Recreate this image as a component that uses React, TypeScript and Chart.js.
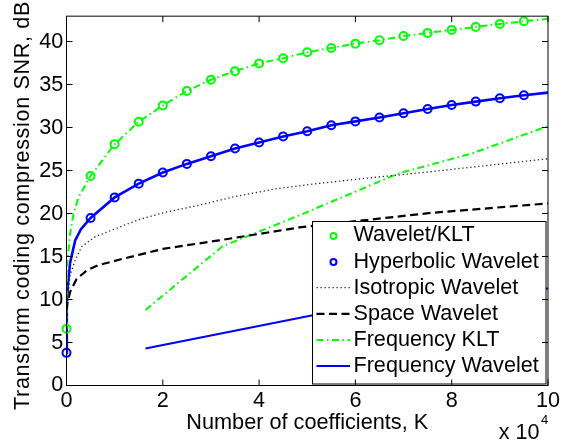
import React, { useEffect, useRef } from "react";
import { Chart, registerables } from "chart.js";

Chart.register(...registerables);

const FONT_FAMILY = "'Liberation Sans', Arial, Helvetica, sans-serif";
const GREEN = "#00ff00";
const BLUE = "#0000ff";

// ---- axes ----
const X_MAX = 100000;
const Y_MAX = 43;
const xTickValues = [0, 20000, 40000, 60000, 80000, 100000];
const yTickValues = [0, 5, 10, 15, 20, 25, 30, 35, 40];
const xTitle = "Number of coefficients, K";
const yTitle = "Transform coding compression SNR, dB";
const xExponentBase = "x 10";
const xExponent = "4";

// ---- marker series (every 5000 coefficients) ----
const markerK = [
  0, 5000, 10000, 15000, 20000, 25000, 30000, 35000, 40000, 45000,
  50000, 55000, 60000, 65000, 70000, 75000, 80000, 85000, 90000, 95000,
];
const waveletKltMarkerSNR = [
  6.6, 24.4, 28.1, 30.7, 32.6, 34.3, 35.6, 36.6, 37.5, 38.1,
  38.8, 39.3, 39.8, 40.2, 40.7, 41.05, 41.4, 41.75, 42.1, 42.4,
];
const hyperbolicMarkerSNR = [
  3.8, 19.5, 21.9, 23.5, 24.8, 25.8, 26.7, 27.6, 28.3, 29.0,
  29.6, 30.3, 30.75, 31.2, 31.7, 32.2, 32.65, 33.05, 33.45, 33.8,
];

// ---- continuous curves ----
const waveletKltCurveK = [
  0, 50, 200, 750, 1450, 2480, 5000, 10000, 15000, 20000, 25000, 30000, 35000,
  40000, 45000, 50000, 55000, 60000, 65000, 70000, 75000, 80000, 85000, 90000,
  95000, 100000,
];
const waveletKltCurveSNR = [
  6.6, 12.0, 14.5, 17.7, 20.0, 21.9, 24.4, 28.1, 30.7, 32.6, 34.3, 35.6, 36.6,
  37.5, 38.1, 38.8, 39.3, 39.8, 40.2, 40.7, 41.05, 41.4, 41.75, 42.1, 42.4, 42.7,
];

const hyperbolicCurveK = [
  0, 30, 100, 270, 750, 1800, 3000, 5000, 10000, 15000, 20000, 25000, 30000,
  35000, 40000, 45000, 50000, 55000, 60000, 65000, 70000, 75000, 80000, 85000,
  90000, 95000, 100000,
];
const hyperbolicCurveSNR = [
  3.8, 7.5, 9.5, 11.6, 14.3, 16.9, 18.2, 19.5, 21.9, 23.5, 24.8, 25.8, 26.7,
  27.6, 28.3, 29.0, 29.6, 30.3, 30.75, 31.2, 31.7, 32.2, 32.65, 33.05, 33.45,
  33.8, 34.1,
];

const isotropicK = [
  0, 100, 270, 750, 1800, 3200, 5900, 10800, 15000, 20000, 27600, 35000, 43500,
  52000, 60000, 75800, 100000,
];
const isotropicSNR = [
  8.5, 9.0, 10.1, 12.8, 14.6, 16.2, 17.3, 18.4, 19.3, 20.1, 21.0, 22.0, 22.9,
  23.5, 24.0, 24.9, 26.4,
];

const spaceK = [
  0, 200, 750, 2100, 4200, 6600, 11300, 15000, 20000, 31700, 48300, 75800,
  100000,
];
const spaceSNR = [
  8.8, 9.6, 10.9, 12.4, 13.4, 14.0, 14.7, 15.2, 15.9, 16.9, 18.4, 20.1, 21.2,
];

const freqKltK = [16400, 32400, 48300, 69000, 84100, 100000];
const freqKltSNR = [8.8, 16.2, 19.8, 24.7, 27.0, 30.2];

const freqWaveletK = [16400, 51400, 65500, 81900, 100000];
const freqWaveletSNR = [4.3, 8.2, 9.1, 10.2, 11.3];

const legendLabels = [
  "Wavelet/KLT",
  "Hyperbolic Wavelet",
  "Isotropic Wavelet",
  "Space Wavelet",
  "Frequency KLT",
  "Frequency Wavelet",
];

const DASH_DOT = [7, 3.5, 1.5, 3.5];
const DASHED = [8, 4.5];
const DOTTED = [1.3, 2.7];

const toXY = (xs: number[], ys: number[]) => xs.map((x, i) => ({ x, y: ys[i] }));

const matlabFrame = {
  id: "matlabFrame",
  afterDatasetsDraw(chart: any) {
    const { ctx, chartArea: a, scales } = chart;
    const xs = scales.x;
    const ys = scales.y;
    ctx.save();

    // ---- legend box (inside axes, bottom-right) ----
    const lRight = a.right - 2;
    const lBottom = a.bottom - 1.5;
    const lWidth = 233.5;
    const lHeight = 162.5;
    const lLeft = lRight - lWidth;
    const lTop = lBottom - lHeight;
    ctx.fillStyle = "#ffffff";
    ctx.fillRect(lLeft, lTop, lWidth, lHeight);
    ctx.strokeStyle = "#000000";
    ctx.lineWidth = 1;
    ctx.setLineDash([]);
    ctx.strokeRect(lLeft, lTop, lWidth, lHeight);

    const entries = chart.data.datasets.filter((d: any) => d.inLegend);
    ctx.font = `21.6px ${FONT_FAMILY}`;
    ctx.textBaseline = "middle";
    ctx.textAlign = "left";
    entries.forEach((d: any, i: number) => {
      const y = lTop + 14 + i * 26.1;
      if (d.showLine === false) {
        ctx.setLineDash([]);
        ctx.lineWidth = 2;
        ctx.strokeStyle = d.pointBorderColor;
        ctx.beginPath();
        ctx.arc(lLeft + 21, y + 0.5, 3, 0, Math.PI * 2);
        ctx.stroke();
      } else {
        ctx.setLineDash(d.borderDash || []);
        ctx.lineWidth = d.borderWidth;
        ctx.strokeStyle = d.borderColor;
        ctx.beginPath();
        ctx.moveTo(lLeft + 4, y);
        ctx.lineTo(lLeft + 37.5, y);
        ctx.stroke();
      }
      ctx.fillStyle = "#000000";
      ctx.fillText(d.label, lLeft + 41, y);
    });

    // ---- axes box ----
    ctx.setLineDash([]);
    ctx.strokeStyle = "#000000";
    ctx.lineWidth = 1;
    ctx.strokeRect(a.left, a.top, a.right - a.left, a.bottom - a.top);

    // ---- inward ticks on all four sides ----
    const tl = 6;
    ctx.beginPath();
    xTickValues.forEach((v) => {
      const px = xs.getPixelForValue(v);
      ctx.moveTo(px, a.bottom);
      ctx.lineTo(px, a.bottom - tl);
      ctx.moveTo(px, a.top);
      ctx.lineTo(px, a.top + tl);
    });
    yTickValues.forEach((v) => {
      const py = Math.round(ys.getPixelForValue(v) - 0.5) + 0.5;
      ctx.moveTo(a.left, py);
      ctx.lineTo(a.left + tl, py);
      ctx.moveTo(a.right, py);
      ctx.lineTo(a.right - tl, py);
    });
    ctx.stroke();
    ctx.restore();
  },
  afterDraw(chart: any) {
    const { ctx, chartArea: a } = chart;
    ctx.save();
    ctx.fillStyle = "#000000";

    // y-axis title (rotated)
    ctx.font = `21.6px ${FONT_FAMILY}`;
    const w = ctx.measureText(yTitle).width;
    const target = 409;
    try {
      (ctx as any).letterSpacing = `${Math.max(0, (target - w) / yTitle.length)}px`;
    } catch (e) {}
    ctx.translate(29.3, 205.5);
    ctx.rotate(-Math.PI / 2);
    ctx.textAlign = "center";
    ctx.textBaseline = "alphabetic";
    ctx.fillText(yTitle, 0, 0);
    ctx.restore();

    // x-axis exponent "x 10^4"
    ctx.save();
    ctx.fillStyle = "#000000";
    ctx.textAlign = "left";
    ctx.textBaseline = "alphabetic";
    ctx.font = `21.6px ${FONT_FAMILY}`;
    ctx.fillText(xExponentBase, a.right - 49.3, 439);
    const bw = ctx.measureText(xExponentBase).width;
    ctx.font = `13px ${FONT_FAMILY}`;
    ctx.fillText(xExponent, a.right - 49.3 + bw + 1.5, 423.5);
    ctx.restore();
  },
};

export default function App() {
  const canvasRef = useRef<HTMLCanvasElement | null>(null);

  useEffect(() => {
    const canvas = canvasRef.current;
    if (!canvas) return;
    Chart.defaults.font.family = FONT_FAMILY;
    Chart.defaults.color = "#000000";

    const chart = new Chart(canvas, {
      type: "scatter",
      data: {
        datasets: [
          {
            label: legendLabels[0],
            inLegend: true,
            data: toXY(markerK, waveletKltMarkerSNR),
            showLine: false,
            pointStyle: "circle",
            pointRadius: 4,
            pointBorderWidth: 2,
            pointBorderColor: GREEN,
            pointBackgroundColor: "rgba(0,0,0,0)",
            borderColor: GREEN,
            clip: false,
          },
          {
            label: legendLabels[1],
            inLegend: true,
            data: toXY(markerK, hyperbolicMarkerSNR),
            showLine: false,
            pointStyle: "circle",
            pointRadius: 4,
            pointBorderWidth: 2,
            pointBorderColor: BLUE,
            pointBackgroundColor: "rgba(0,0,0,0)",
            borderColor: BLUE,
            clip: false,
          },
          {
            label: legendLabels[2],
            inLegend: true,
            data: toXY(isotropicK, isotropicSNR),
            showLine: true,
            borderColor: "#262626",
            borderWidth: 1.3,
            borderDash: DOTTED,
            pointRadius: 0,
            tension: 0,
          },
          {
            label: legendLabels[3],
            inLegend: true,
            data: toXY(spaceK, spaceSNR),
            showLine: true,
            borderColor: "#000000",
            borderWidth: 2.2,
            borderDash: DASHED,
            pointRadius: 0,
            tension: 0,
          },
          {
            label: legendLabels[4],
            inLegend: true,
            data: toXY(freqKltK, freqKltSNR),
            showLine: true,
            borderColor: GREEN,
            borderWidth: 2,
            borderDash: DASH_DOT,
            pointRadius: 0,
            tension: 0,
          },
          {
            label: legendLabels[5],
            inLegend: true,
            data: toXY(freqWaveletK, freqWaveletSNR),
            showLine: true,
            borderColor: BLUE,
            borderWidth: 2,
            pointRadius: 0,
            tension: 0,
          },
          {
            label: "Wavelet/KLT curve",
            inLegend: false,
            data: toXY(waveletKltCurveK, waveletKltCurveSNR),
            showLine: true,
            borderColor: GREEN,
            borderWidth: 2,
            borderDash: DASH_DOT,
            pointRadius: 0,
            tension: 0,
          },
          {
            label: "Hyperbolic Wavelet curve",
            inLegend: false,
            data: toXY(hyperbolicCurveK, hyperbolicCurveSNR),
            showLine: true,
            borderColor: BLUE,
            borderWidth: 2.6,
            pointRadius: 0,
            tension: 0,
          },
        ],
      } as any,
      options: {
        animation: false,
        responsive: false,
        devicePixelRatio: 1,
        events: [],
        layout: { padding: { top: 6.5, right: 11.5, left: 0, bottom: 0 } },
        plugins: {
          legend: { display: false },
          tooltip: { enabled: false },
          title: { display: false },
        },
        scales: {
          x: {
            type: "linear",
            min: 0,
            max: X_MAX,
            grid: { display: false, drawTicks: false },
            border: { display: false },
            ticks: {
              stepSize: 20000,
              padding: 3,
              maxRotation: 0,
              autoSkip: false,
              font: { size: 21.6, family: FONT_FAMILY },
              color: "#000000",
              callback: (v: any) => String(Number(v) / 10000),
            },
            title: {
              display: true,
              text: xTitle,
              color: "#000000",
              font: { size: 21.7, family: FONT_FAMILY },
              padding: { top: 0, bottom: 8 },
            },
            afterFit: (scale: any) => {
              scale.height = 58.5;
            },
          },
          y: {
            type: "linear",
            min: 0,
            max: Y_MAX,
            grid: { display: false, drawTicks: false },
            border: { display: false },
            ticks: {
              stepSize: 5,
              includeBounds: false,
              padding: 3.2,
              autoSkip: false,
              font: { size: 21.6, family: FONT_FAMILY },
              color: "#000000",
            },
            title: { display: false },
            afterFit: (scale: any) => {
              scale.width = 66.5;
            },
          },
        },
      } as any,
      plugins: [matlabFrame],
    });

    return () => chart.destroy();
  }, []);

  return (
    <div
      style={{
        position: "absolute",
        left: 0,
        top: 0,
        width: 563,
        height: 444,
        background: "#ffffff",
      }}
    >
      <canvas ref={canvasRef} width={563} height={444} style={{ display: "block" }} />
    </div>
  );
}
